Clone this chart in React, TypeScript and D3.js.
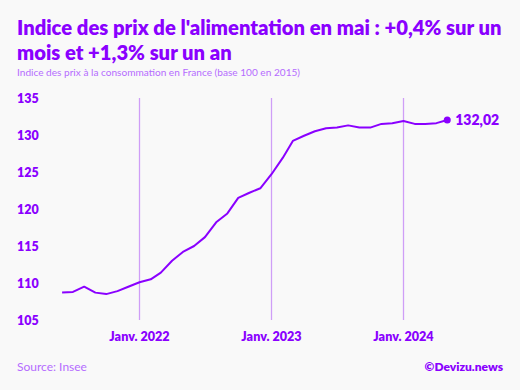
import React from 'react';
import {scaleTime, scaleLinear, line, timeMonth} from 'd3';

const START = new Date(2021, 5, 1); // juin 2021
const values = [
  108.7, 108.8, 109.5, 108.7, 108.5, 108.9, 109.5,
  110.1, 110.5, 111.4, 113.0, 114.2, 115.0, 116.2, 118.2, 119.4, 121.5, 122.2, 122.8,
  124.7, 126.9, 129.2, 129.9, 130.5, 130.9, 131.0, 131.3, 131.0, 131.0, 131.5, 131.6,
  131.9, 131.5, 131.5, 131.6, 132.02,
];
const yTicks = [105, 110, 115, 120, 125, 130, 135];
const xTicks = [new Date(2022, 0, 1), new Date(2023, 0, 1), new Date(2024, 0, 1)];
const xTickLabels = ['Janv. 2022', 'Janv. 2023', 'Janv. 2024'];

const PURPLE = '#8a00ff';
const LIGHT = '#cf9ef7';
const FONT = 'Lato, sans-serif';

export default function App() {
  const data = values.map((v, i) => ({date: timeMonth.offset(START, i), value: v}));

  const x = scaleTime()
    .domain([new Date(2022, 0, 1), new Date(2023, 0, 1)])
    .range([139.5, 271.5]);
  const y = scaleLinear().domain([105, 135]).range([320, 98]);

  const path = line<{date: Date; value: number}>()
    .x(d => x(d.date))
    .y(d => y(d.value))(data);

  const last = data[data.length - 1];

  return (
    <svg width={520} height={390} style={{position: 'absolute', left: 0, top: 0}}>
      <rect width={520} height={390} fill="#f9f9f9" />
      <text x={17} y={35} fill={PURPLE} fontFamily={FONT} fontWeight={800} fontSize={20.2}>
        Indice des prix de l'alimentation en mai : +0,4% sur un
      </text>
      <text x={17} y={59.5} fill={PURPLE} fontFamily={FONT} fontWeight={800} fontSize={20.2}>
        mois et +1,3% sur un an
      </text>
      <text x={17} y={75.5} fill="#b56cff" fontFamily={FONT} fontSize={10.1}>
        Indice des prix à la consommation en France (base 100 en 2015)
      </text>

      {xTicks.map((t, i) => (
        <g key={i}>
          <line x1={x(t)} x2={x(t)} y1={y(135)} y2={y(105)} stroke={LIGHT} strokeWidth={1.3} />
          <text x={x(t)} y={340.5} textAnchor="middle" fill={PURPLE} fontFamily={FONT} fontWeight={800} fontSize={12.6}>
            {xTickLabels[i]}
          </text>
        </g>
      ))}

      {yTicks.map(t => (
        <text key={t} x={17} y={y(t) + 4.5} fill={PURPLE} fontFamily={FONT} fontWeight={800} fontSize={12.5}>
          {t}
        </text>
      ))}

      <path d={path ?? ''} fill="none" stroke={PURPLE} strokeWidth={2} strokeLinejoin="round" />
      <circle cx={x(last.date)} cy={y(last.value)} r={3.5} fill={PURPLE} />
      <text x={x(last.date) + 8} y={y(last.value) + 5} fill={PURPLE} fontFamily={FONT} fontWeight={800} fontSize={14}>
        {last.value.toFixed(2).replace('.', ',')}
      </text>

      <text x={17} y={370.5} fill="#b56cff" fontFamily={FONT} fontSize={12}>
        Source: Insee
      </text>
      <text x={503} y={370.5} textAnchor="end" fill={PURPLE} fontFamily={FONT} fontWeight={800} fontSize={12}>
        ©Devizu.news
      </text>
    </svg>
  );
}
